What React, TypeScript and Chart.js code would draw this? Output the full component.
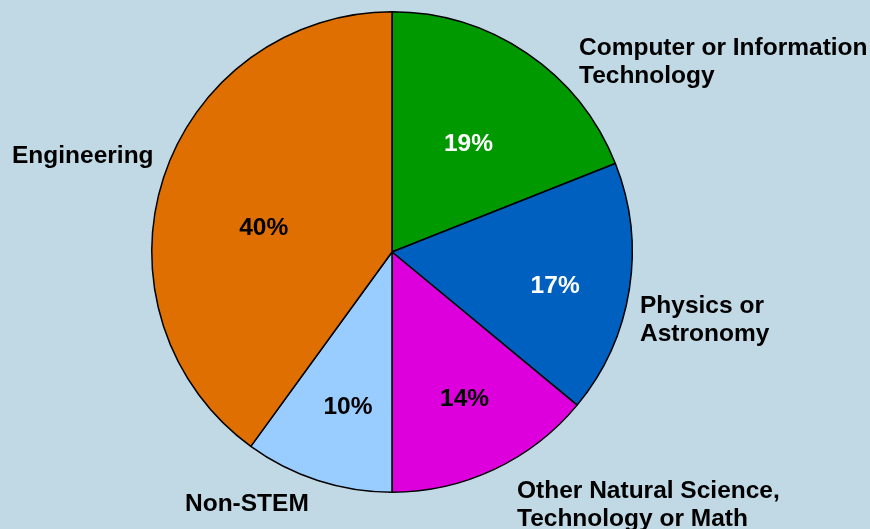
import { useEffect, useRef } from "react";
import { Chart, registerables } from "chart.js";

Chart.register(...registerables);

// ---- data ----
const categories = [
  "Computer or Information Technology",
  "Physics or Astronomy",
  "Other Natural Science, Technology or Math",
  "Non-STEM",
  "Engineering",
];
const categoryLines = [
  ["Computer or Information", "Technology"],
  ["Physics or", "Astronomy"],
  ["Other Natural Science,", "Technology or Math"],
  ["Non-STEM"],
  ["Engineering"],
];
const shares = [19, 17, 14, 10, 40];
const sliceColors = ["#009900", "#0060C0", "#DD00DD", "#99CCFF", "#DF6F00"];
const pctTextColors = ["#FFFFFF", "#FFFFFF", "#000000", "#000000", "#000000"];

// ---- styling / layout of annotations ----
const BG = "#C1D9E5";
const FONT = "bold 24.5px 'Liberation Sans', Arial, Helvetica, sans-serif";
// percent labels: radial distance (fraction of radius) and angle tweak (degrees) from slice middle
const pctPlacement = [
  { f: 0.558, da: 0.6 },
  { f: 0.692, da: 2.1 },
  { f: 0.675, da: -1.4 },
  { f: 0.665, da: -2 },
  { f: 0.545, da: -6.5 },
];
// category labels: left x / first baseline, relative to pie centre
const catPlacement = [
  { dx: 187, dy: -197 },
  { dx: 248, dy: 61 },
  { dx: 125, dy: 246 },
  { dx: -207, dy: 259 },
  { dx: -380, dy: -89 },
];
const LINE_H = 28;

const labelPlugin = {
  id: "pieLabels",
  afterDatasetsDraw(chart: any) {
    const ctx = chart.ctx as CanvasRenderingContext2D;
    const meta = chart.getDatasetMeta(0);
    ctx.save();
    ctx.font = FONT;
    ctx.textBaseline = "alphabetic";
    meta.data.forEach((arc: any, i: number) => {
      const { x, y, startAngle, endAngle, outerRadius } = arc.getProps(
        ["x", "y", "startAngle", "endAngle", "outerRadius"],
        true
      );
      const p = pctPlacement[i];
      const mid = (startAngle + endAngle) / 2 + (p.da * Math.PI) / 180;
      const d = outerRadius * p.f;
      const px = x + d * Math.cos(mid);
      const py = y + d * Math.sin(mid);
      ctx.fillStyle = pctTextColors[i];
      ctx.textAlign = "center";
      ctx.fillText(shares[i] + "%", px, py + 8.8);

      const c = catPlacement[i];
      ctx.fillStyle = "#000000";
      ctx.textAlign = "left";
      categoryLines[i].forEach((line, k) => {
        ctx.fillText(line, x + c.dx, y + c.dy + k * LINE_H);
      });
    });
    ctx.restore();
  },
};

export default function App() {
  const ref = useRef<HTMLCanvasElement | null>(null);
  useEffect(() => {
    if (!ref.current) return;
    const chart = new Chart(ref.current, {
      type: "pie",
      data: {
        labels: categories,
        datasets: [
          {
            data: shares,
            backgroundColor: sliceColors,
            borderColor: "#000000",
            borderWidth: 1.5,
            hoverOffset: 0,
          },
        ],
      },
      options: {
        responsive: false,
        animation: false,
        events: [],
        layout: { padding: { left: 151, right: 237, top: 11, bottom: 36 } },
        plugins: {
          legend: { display: false },
          tooltip: { enabled: false },
        },
      },
      plugins: [labelPlugin],
    });
    return () => chart.destroy();
  }, []);
  return (
    <div
      style={{
        position: "fixed",
        left: 0,
        top: 0,
        width: 870,
        height: 529,
        background: BG,
        overflow: "hidden",
      }}
    >
      <canvas ref={ref} width={870} height={529} style={{ display: "block" }} />
    </div>
  );
}
